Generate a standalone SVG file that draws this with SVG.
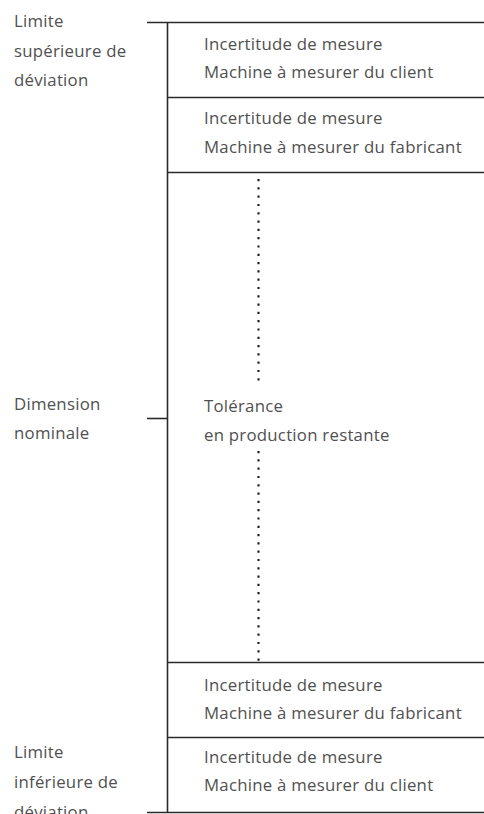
<svg xmlns="http://www.w3.org/2000/svg" width="484" height="814" viewBox="0 0 484 814">
<style>
.t{font-family:"Open Sans","Noto Sans",sans-serif;font-size:16.8px;letter-spacing:0.25px;fill:#505050}
.l{stroke:#2a2a2a;stroke-width:1.6;fill:none}
.d{stroke:#222;stroke-width:2.2;stroke-dasharray:2.2 6.1;fill:none}
</style>
<rect width="484" height="814" fill="#fff"/>
<g id="connectors">
<line class="l" x1="167.5" y1="22" x2="167.5" y2="813"/>
<line class="l" x1="147" y1="22.5" x2="484" y2="22.5"/>
<line class="l" x1="167" y1="97.5" x2="484" y2="97.5"/>
<line class="l" x1="167" y1="172.5" x2="484" y2="172.5"/>
<line class="l" x1="167" y1="662.5" x2="484" y2="662.5"/>
<line class="l" x1="167" y1="737.5" x2="484" y2="737.5"/>
<line class="l" x1="147" y1="812.5" x2="484" y2="812.5"/>
<line class="l" x1="147" y1="418.5" x2="167" y2="418.5"/>
<line class="d" x1="258.5" y1="179" x2="258.5" y2="384"/>
<line class="d" x1="258.5" y1="451" x2="258.5" y2="662"/>
</g>
<g id="label-upper">
<text class="t" x="14" y="27">Limite</text>
<text class="t" x="14" y="57">supérieure de</text>
<text class="t" x="14" y="86">déviation</text>
</g>
<g id="label-nominal">
<text class="t" x="14" y="410">Dimension</text>
<text class="t" x="14" y="439">nominale</text>
</g>
<g id="label-lower">
<text class="t" x="14" y="758">Limite</text>
<text class="t" x="14" y="788">inférieure de</text>
<text class="t" x="14" y="818">déviation</text>
</g>
<g id="box-client-top">
<text class="t" x="204" y="50">Incertitude de mesure</text>
<text class="t" x="204" y="78">Machine à mesurer du client</text>
</g>
<g id="box-fabricant-top">
<text class="t" x="204" y="124">Incertitude de mesure</text>
<text class="t" x="204" y="153">Machine à mesurer du fabricant</text>
</g>
<g id="box-tolerance">
<text class="t" x="204" y="412">Tolérance</text>
<text class="t" x="204" y="441">en production restante</text>
</g>
<g id="box-fabricant-bottom">
<text class="t" x="204" y="691">Incertitude de mesure</text>
<text class="t" x="204" y="719">Machine à mesurer du fabricant</text>
</g>
<g id="box-client-bottom">
<text class="t" x="204" y="763">Incertitude de mesure</text>
<text class="t" x="204" y="791">Machine à mesurer du client</text>
</g>
</svg>
